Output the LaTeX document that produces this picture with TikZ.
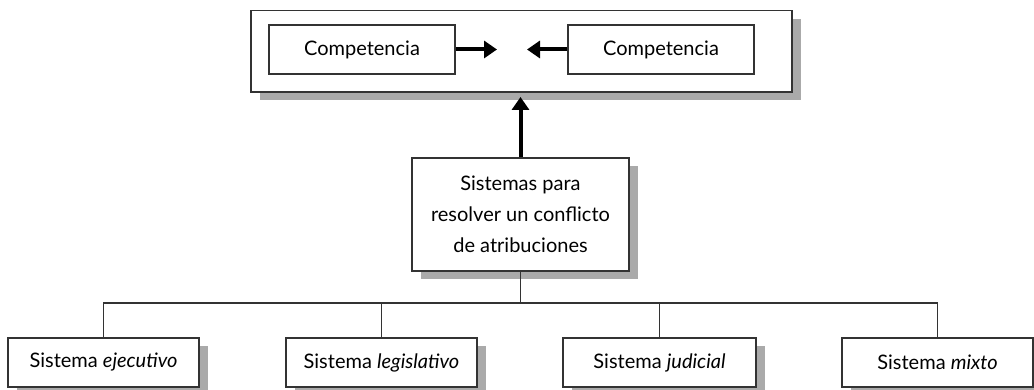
\documentclass[tikz,border=0pt]{standalone}
\usepackage{fontspec}
\setmainfont{Lato}
\usetikzlibrary{arrows.meta,shadows}
\definecolor{edge}{HTML}{333333}
\definecolor{shade}{HTML}{AAAAAA}
\tikzset{
  px/.style={x=1pt,y=1pt},
  box/.style={draw=edge, line width=1.6pt, fill=white, inner sep=0pt, font=\fontsize{20}{31}\selectfont, align=center},
  shbox/.style={box, drop shadow={shadow xshift=8.5pt, shadow yshift=-8.5pt, fill=shade, opacity=1}},
  link/.style={draw=edge, line width=1.3pt},
  bigarrow/.style={line width=4pt, -{Triangle[width=17pt,length=13pt]}}
}
\begin{document}
\begin{tikzpicture}[px]
\useasboundingbox (0,0) rectangle (1034,390);
% outer top frame
\node[shbox, minimum width=541pt, minimum height=81.5pt] (outer) at (521.5,338.75) {};
\node[box, minimum width=186pt, minimum height=49pt] (inL) at (362,340.5) {Competencia};
\node[box, minimum width=186pt, minimum height=49pt] (inR) at (661,340.5) {Competencia};
\coordinate (tipL) at (497,340.5);
\coordinate (tipR) at (527,340.5);
\draw[bigarrow] (inL.east) -- (tipL);
\draw[bigarrow] (inR.west) -- (tipR);
% middle
\node[shbox, minimum width=217pt, minimum height=113pt] (mid) at (520.5,175.5) {Sistemas para\\resolver un conflicto\\de atribuciones};
\coordinate (tipUp) at (520.5,293);
\draw[bigarrow] (mid.north) -- (tipUp);
% bottom boxes
\node[shbox, minimum width=191pt, minimum height=49pt] (b1) at (103.5,27.5) {Sistema \textit{ejecutivo}};
\node[shbox, minimum width=191pt, minimum height=49pt] (b2) at (381.5,27.5) {Sistema \textit{legislativo}};
\node[shbox, minimum width=193pt, minimum height=49pt] (b3) at (659.5,27.5) {Sistema \textit{judicial}};
\node[shbox, minimum width=191pt, minimum height=49pt] (b4) at (937.5,27.5) {Sistema \textit{mixto}};
\coordinate (bus) at (520.5,87);
\draw[link] (mid.south) -- (bus);
\draw[link] (b1.north) -- (b1.north |- bus) -- (b4.north |- bus) -- (b4.north);
\draw[link] (b2.north) -- (b2.north |- bus);
\draw[link] (b3.north) -- (b3.north |- bus);
\end{tikzpicture}
\end{document}
